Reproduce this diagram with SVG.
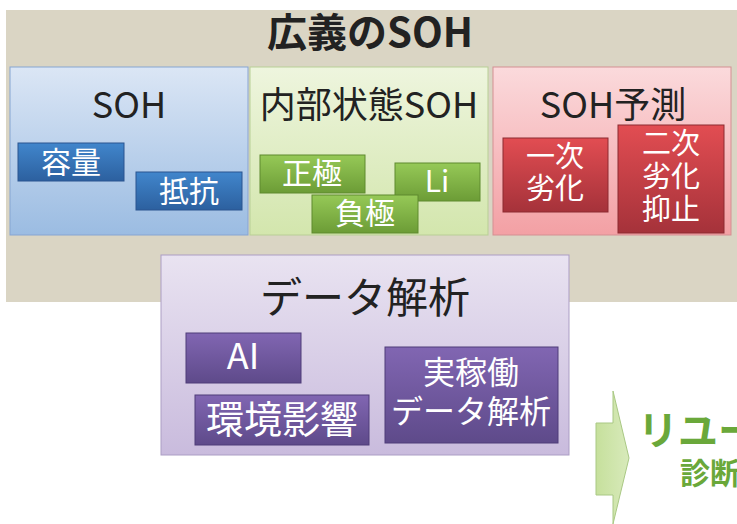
<svg xmlns="http://www.w3.org/2000/svg" width="737" height="524" viewBox="0 0 737 524">
<defs>
<linearGradient id="gBluePanel" x1="0" y1="0" x2="0" y2="1"><stop offset="0" stop-color="#dbe6f5"/><stop offset="1" stop-color="#9bbce2"/></linearGradient>
<linearGradient id="gGreenPanel" x1="0" y1="0" x2="0" y2="1"><stop offset="0" stop-color="#eef5de"/><stop offset="1" stop-color="#d3e6ad"/></linearGradient>
<linearGradient id="gPinkPanel" x1="0" y1="0" x2="0" y2="1"><stop offset="0" stop-color="#fbdadc"/><stop offset="1" stop-color="#f3a0a4"/></linearGradient>
<linearGradient id="gPurplePanel" x1="0" y1="0" x2="0" y2="1"><stop offset="0" stop-color="#e9e3f1"/><stop offset="1" stop-color="#c9bbdd"/></linearGradient>
<linearGradient id="gBlue" x1="0" y1="0" x2="0" y2="1"><stop offset="0" stop-color="#4186cc"/><stop offset="1" stop-color="#2c609f"/></linearGradient>
<linearGradient id="gGreen" x1="0" y1="0" x2="0" y2="1"><stop offset="0" stop-color="#96c957"/><stop offset="1" stop-color="#6c9c36"/></linearGradient>
<linearGradient id="gRed" x1="0" y1="0" x2="0" y2="1"><stop offset="0" stop-color="#e24d52"/><stop offset="1" stop-color="#a5323a"/></linearGradient>
<linearGradient id="gPurple" x1="0" y1="0" x2="0" y2="1"><stop offset="0" stop-color="#8166b2"/><stop offset="1" stop-color="#5e4a8a"/></linearGradient>
<linearGradient id="gArrow" x1="0" y1="0" x2="1" y2="0"><stop offset="0" stop-color="#c6e09c"/><stop offset="1" stop-color="#d8eabb"/></linearGradient>
</defs>
<style>
text{font-family:"Noto Sans CJK JP","Noto Sans",sans-serif;text-anchor:middle}
.ttl{font-size:40px;font-weight:bold;fill:#222}
.ptl{font-size:36px;fill:#222}
.bt{font-size:30px;fill:#fff}
.rt{font-size:29px;fill:#fff}
.panel{stroke-width:1}
.box{stroke-width:1}
.grn{fill:#6aa83a;font-weight:bold;text-anchor:start}
</style>
<rect x="6" y="10" width="731" height="292" fill="#dad5c4"/>
<g id="title"><text class="ttl" x="370" y="47">広義のSOH</text></g>

<g id="soh">
<rect class="panel" x="10" y="67" width="238" height="168" fill="url(#gBluePanel)" stroke="#86a5d2"/>
<text class="ptl" x="129" y="118">SOH</text>
</g>
<g id="capacity">
<rect class="box" x="18" y="143" width="106" height="38" fill="url(#gBlue)" stroke="#2a5590"/>
<text class="bt" x="71" y="173">容量</text>
</g>
<g id="resistance">
<rect class="box" x="136" y="172" width="106" height="38" fill="url(#gBlue)" stroke="#2a5590"/>
<text class="bt" x="189" y="202">抵抗</text>
</g>

<g id="internal">
<rect class="panel" x="250" y="67" width="238" height="168" fill="url(#gGreenPanel)" stroke="#b8cf95"/>
<text class="ptl" x="369" y="118">内部状態SOH</text>
</g>
<g id="positive">
<rect class="box" x="260" y="155" width="105" height="38" fill="url(#gGreen)" stroke="#5e8a2e"/>
<text class="bt" x="312" y="184">正極</text>
</g>
<g id="li">
<rect class="box" x="395" y="163" width="85" height="38" fill="url(#gGreen)" stroke="#5e8a2e"/>
<text class="bt" x="437" y="192">Li</text>
</g>
<g id="negative">
<rect class="box" x="312" y="195" width="106" height="38" fill="url(#gGreen)" stroke="#5e8a2e"/>
<text class="bt" x="365" y="224">負極</text>
</g>

<g id="prediction">
<rect class="panel" x="493" y="67" width="238" height="168" fill="url(#gPinkPanel)" stroke="#d48f92"/>
<text class="ptl" x="613" y="118">SOH予測</text>
</g>
<g id="primary">
<rect class="box" x="503" y="138" width="105" height="74" fill="url(#gRed)" stroke="#8c2a30"/>
<text class="rt"><tspan x="555" y="167">一次</tspan><tspan x="555" y="199">劣化</tspan></text>
</g>
<g id="secondary">
<rect class="box" x="618" y="125" width="106" height="108" fill="url(#gRed)" stroke="#8c2a30"/>
<text class="rt"><tspan x="671" y="154">二次</tspan><tspan x="671" y="187">劣化</tspan><tspan x="671" y="220">抑止</tspan></text>
</g>

<g id="analysis">
<rect class="panel" x="161" y="255" width="408" height="200" fill="url(#gPurplePanel)" stroke="#ab9dc4"/>
<text x="365" y="313" style="font-size:42px;fill:#222">データ解析</text>
</g>
<g id="ai">
<rect class="box" x="186" y="333" width="115" height="50" fill="url(#gPurple)" stroke="#4f3d78"/>
<text x="243" y="369" style="font-size:36px;fill:#fff">AI</text>
</g>
<g id="env">
<rect class="box" x="195" y="395" width="174" height="50" fill="url(#gPurple)" stroke="#4f3d78"/>
<text x="282" y="433" style="font-size:38px;fill:#fff">環境影響</text>
</g>
<g id="field">
<rect class="box" x="385" y="347" width="173" height="96" fill="url(#gPurple)" stroke="#4f3d78"/>
<text style="font-size:32px;fill:#fff"><tspan x="471" y="384">実稼働</tspan><tspan x="471" y="423">データ解析</tspan></text>
</g>

<g id="connectors">
<polygon points="596,423 613,423 613,391 629,458 613,524 613,495 596,495" fill="url(#gArrow)" stroke="#a9c884" stroke-width="1"/>
</g>
<g id="reuse">
<text class="grn" x="638" y="445" style="font-size:40px">リユー</text>
<text class="grn" x="680" y="484" style="font-size:30px">診断</text>
</g>
</svg>
